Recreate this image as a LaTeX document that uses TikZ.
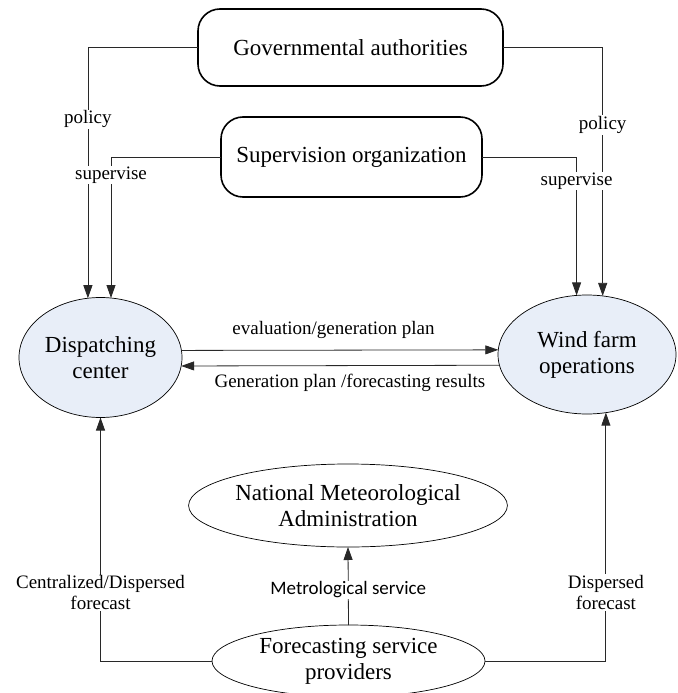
\documentclass[tikz,border=0pt]{standalone}
\usepackage{fontspec}
\setmainfont{Liberation Serif}
\newfontfamily\serifmain{Liberation Serif}
\newfontfamily\calibfont{Carlito}
\usetikzlibrary{arrows.meta,shapes.geometric}
\definecolor{ellfill}{RGB}{232,238,248}
\definecolor{linegray}{RGB}{40,40,40}
\begin{document}
\begin{tikzpicture}[x=1pt,y=-1pt,
  mainbox/.style={draw=black, line width=1.6pt, rounded corners=22pt, inner sep=0pt, outer sep=0pt,
    font=\serifmain\fontsize{23}{26}\selectfont, align=center},
  bluell/.style={ellipse, draw=black, line width=0.7pt, fill=ellfill, inner sep=0pt, outer sep=0pt,
    font=\serifmain\fontsize{23}{26}\selectfont, align=center},
  whiteell/.style={ellipse, draw=black, line width=0.7pt, fill=white, inner sep=0pt, outer sep=0pt,
    font=\serifmain\fontsize{23}{26}\selectfont, align=center},
  conn/.style={draw=linegray, line width=0.8pt},
  arr/.style={conn, -{Triangle[length=13pt,width=9pt]}},
  lbl/.style={fill=white, inner sep=1pt, font=\serifmain\fontsize{19}{21}\selectfont, align=center},
  plainlbl/.style={inner sep=1pt, font=\serifmain\fontsize{19}{21}\selectfont}
]
\useasboundingbox (0,0) rectangle (677,693);

\node[mainbox, minimum width=305pt, minimum height=77pt] (gov) at (350.5,47.5) {Governmental authorities};
\node[mainbox, minimum width=261pt, minimum height=80pt] (sup) at (351.5,157) {Supervision organization};

\node[bluell, minimum width=163pt, minimum height=120pt] (dc) at (100.5,357.5) {Dispatching\\center};
\node[bluell, minimum width=178pt, minimum height=119pt] (wf) at (587,354.5) {Wind farm\\operations};

\node[whiteell, minimum width=290pt, minimum height=83pt] (nma) at (348,505.5) {National Meteorological\\Administration};
\node[whiteell, minimum width=273pt, minimum height=72pt] (fsp) at (348.5,661) {Forecasting service\\providers};

% policy / supervise
\draw[arr] (gov.west) -| (dc.102.85) node[lbl, pos=0.643] (polL) {policy};
\draw[arr] (gov.east) -| (wf.75.65) node[lbl, pos=0.656] (polR) {policy};
\draw[arr] (sup.west) -| (dc.80) node[lbl, pos=0.564] (supL) {supervise};
\draw[arr] (sup.east) -| (wf.100.55) node[lbl, pos=0.587] (supR) {supervise};

% horizontal exchanges
\draw[arr] (dc.5.3) -- (wf.177.1) node[plainlbl, pos=0.48, yshift=20pt] (evl) {evaluation/generation plan};
\draw[arr] (wf.187.5) -- (dc.354) node[plainlbl, pos=0.47, yshift=-17pt] (gpl) {Generation plan /forecasting results};

% forecasts
\draw[arr] (fsp.west) -| (dc.south) node[lbl, pos=0.64] (cdf) {Centralized/Dispersed\\forecast};
\draw[arr] (fsp.east) -| (wf.288.1) node[lbl, pos=0.638] (dfc) {Dispersed\\forecast};

% meteorological
\draw[arr] (fsp.north) -- (nma.south) node[lbl, pos=0.45, font=\calibfont\fontsize{19}{21}\selectfont] (mets) {Metrological service};
\end{tikzpicture}
\end{document}
